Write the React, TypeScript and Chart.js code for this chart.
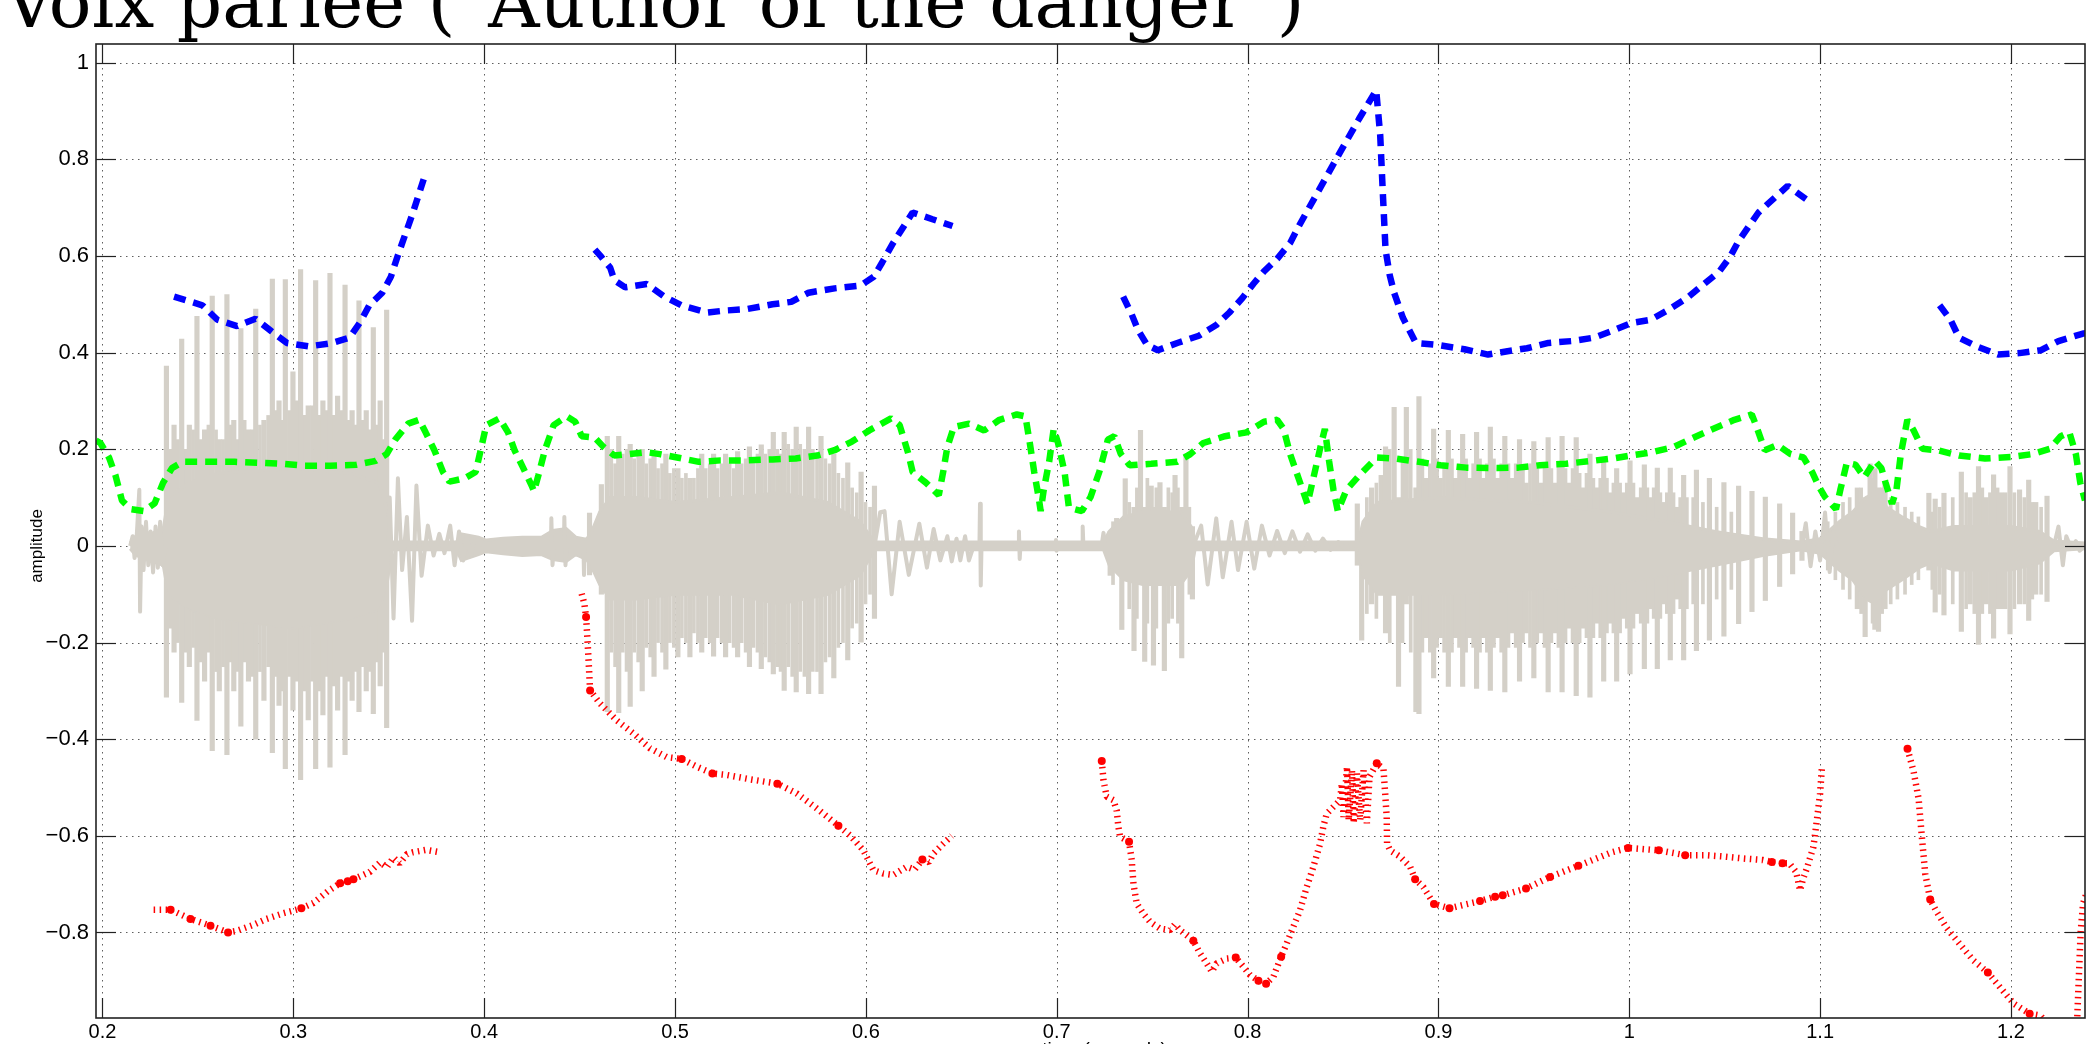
import React, { useEffect, useRef } from 'react';
import { Chart, registerables } from 'chart.js';

Chart.register(...registerables);

// ---------- axes ----------
const X_MIN = 0.1966;
const X_MAX = 1.2388;
const Y_MIN = -0.977;
const Y_MAX = 1.0387;
const xTickValues = [0.2, 0.3, 0.4, 0.5, 0.6, 0.7, 0.8, 0.9, 1, 1.1, 1.2];
const yTickValues = [-0.8, -0.6, -0.4, -0.2, 0, 0.2, 0.4, 0.6, 0.8, 1];
const titleText = 'Voix parlée ("Author of the danger")';
const xAxisTitle = 'time (seconds)';
const yAxisTitle = 'amplitude';

// ---------- speech waveform (gray) ----------
// quiet / ringing parts of the waveform: [time, amplitude]
const waveLine: [number, number][] = [
  [0.2145, 0], [0.2158, 0.02], [0.2168, -0.025], [0.218, 0.025], [0.2193, 0.116], [0.2197, -0.136],
  [0.2205, 0.04], [0.2215, -0.05], [0.2228, 0.05], [0.224, -0.04], [0.2252, 0.03], [0.2265, -0.055],
  [0.2278, 0.04], [0.229, -0.045], [0.2302, 0.05], [0.2315, -0.04], [0.233, 0],
  [0.35, 0], [0.3505, 0.1], [0.3525, -0.15], [0.3548, 0.14], [0.357, -0.05], [0.3595, 0.06],
  [0.3622, -0.155], [0.3645, 0.125], [0.3672, -0.062], [0.3705, 0.042], [0.3735, -0.02], [0.3765, 0.025],
  [0.3792, -0.015], [0.3822, 0.042], [0.3845, -0.04], [0.3868, 0.03], [0.389, -0.03], [0.391, 0.02],
  [0.393, -0.02], [0.395, 0.01], [0.4, 0], [0.435, 0], [0.4352, 0.057], [0.4358, -0.04], [0.4365, 0],
  [0.4418, 0], [0.442, 0.06], [0.4426, -0.04], [0.4432, 0], [0.452, 0], [0.4523, -0.06], [0.4528, 0],
  [0.6045, 0], [0.6075, 0.07], [0.6098, 0.072], [0.6135, -0.1], [0.6177, 0.05], [0.6225, -0.06],
  [0.628, 0.046], [0.632, -0.045], [0.6355, 0.035], [0.639, -0.03], [0.6427, 0.02], [0.645, -0.032],
  [0.6475, 0.015], [0.6495, -0.03], [0.652, 0.02], [0.654, -0.03], [0.6565, 0], [0.6595, 0],
  [0.6598, 0.087], [0.6602, -0.082], [0.6606, 0], [0.6798, 0], [0.6802, 0.03], [0.6806, -0.027],
  [0.681, 0], [0.6993, 0], [0.6996, 0.012], [0.6999, -0.01], [0.7002, 0], [0.7133, 0], [0.7136, 0.04],
  [0.714, 0], [0.7235, 0], [0.7245, 0.027], [0.7255, 0],
  [0.7715, 0], [0.7757, 0.042], [0.7791, -0.08], [0.7836, 0.057], [0.787, -0.065], [0.7916, 0.05],
  [0.795, -0.05], [0.7995, 0.05], [0.8035, -0.047], [0.8075, 0.042], [0.8115, -0.02], [0.8155, 0.031],
  [0.8195, -0.015], [0.8235, 0.03], [0.8275, -0.012], [0.8315, 0.024], [0.8355, -0.01], [0.8395, 0.015],
  [0.8435, -0.008], [0.8475, 0.008], [0.851, -0.005], [0.855, 0.003], [0.858, 0],
  [1.0905, 0], [1.0925, 0.047], [1.095, -0.042], [1.0975, 0.03], [1.1, -0.03], [1.1026, 0.069],
  [1.105, -0.054], [1.107, 0.03], [1.109, 0],
  [1.2225, 0], [1.2249, 0.04], [1.2272, -0.04], [1.229, 0.02], [1.2315, -0.005], [1.234, 0.01],
  [1.236, -0.01], [1.2388, 0],
];

// dense core of the voiced parts: [time, upper, lower]
const waveCore: [number, number, number][] = [
  [0.2145, 0.006, -0.006], [0.2175, 0.02, -0.02], [0.225, 0.025, -0.03], [0.2318, 0.035, -0.04],
  [0.2345, 0.1, -0.1], [0.245, 0.13, -0.13], [0.26, 0.15, -0.15], [0.3, 0.16, -0.17], [0.33, 0.15, -0.15],
  [0.345, 0.13, -0.13], [0.3495, 0.07, -0.07], [0.3515, 0.008, -0.008], [0.3855, 0.008, -0.008],
  [0.388, 0.025, -0.03], [0.397, 0.018, -0.018], [0.401, 0.012, -0.012], [0.41, 0.016, -0.016],
  [0.42, 0.018, -0.02], [0.43, 0.018, -0.018], [0.436, 0.032, -0.028], [0.443, 0.036, -0.032],
  [0.448, 0.018, -0.018], [0.4535, 0.014, -0.028], [0.4558, 0.025, -0.04], [0.4605, 0.07, -0.08],
  [0.466, 0.1, -0.11], [0.48, 0.1, -0.11], [0.5, 0.09, -0.1], [0.53, 0.1, -0.1], [0.555, 0.11, -0.12],
  [0.58, 0.09, -0.1], [0.597, 0.05, -0.06], [0.6045, 0.008, -0.008], [0.7245, 0.008, -0.008],
  [0.7275, 0.03, -0.04], [0.735, 0.06, -0.07], [0.745, 0.07, -0.08], [0.765, 0.07, -0.08], [0.7705, 0.04, -0.05],
  [0.7725, 0.008, -0.008], [0.858, 0.008, -0.008], [0.8605, 0.05, -0.06], [0.868, 0.09, -0.1],
  [0.9, 0.1, -0.1], [0.95, 0.09, -0.09], [0.99, 0.07, -0.08], [1.02, 0.05, -0.06], [1.045, 0.03, -0.04],
  [1.07, 0.015, -0.02], [1.09, 0.008, -0.008], [1.1, 0.015, -0.015], [1.11, 0.05, -0.05], [1.117, 0.07, -0.07],
  [1.124, 0.1, -0.11], [1.129, 0.11, -0.12], [1.135, 0.08, -0.09], [1.143, 0.06, -0.07], [1.152, 0.04, -0.045],
  [1.158, 0.03, -0.035], [1.17, 0.04, -0.05], [1.2, 0.04, -0.05], [1.215, 0.03, -0.035], [1.2225, 0.01, -0.01],
  [1.2388, 0.006, -0.006],
];

// glottal pulses (tall spikes): [time, peak, trough]
const waveSpikes: [number, number, number][] = [
  [0.2335, 0.372, -0.313], [0.2375, 0.25, -0.22], [0.2415, 0.428, -0.324], [0.2455, 0.25, -0.25],
  [0.2495, 0.475, -0.361], [0.2535, 0.24, -0.28], [0.2575, 0.517, -0.424], [0.2612, 0.22, -0.3],
  [0.2652, 0.52, -0.432], [0.2688, 0.26, -0.3], [0.2725, 0.45, -0.373], [0.2765, 0.24, -0.28],
  [0.2803, 0.49, -0.4], [0.2846, 0.26, -0.32], [0.289, 0.552, -0.428], [0.2925, 0.3, -0.33],
  [0.2958, 0.551, -0.461], [0.2998, 0.36, -0.34], [0.3038, 0.572, -0.484], [0.3078, 0.29, -0.36],
  [0.3117, 0.549, -0.461], [0.3155, 0.3, -0.35], [0.3192, 0.564, -0.458], [0.3232, 0.31, -0.34],
  [0.3271, 0.54, -0.432], [0.3308, 0.28, -0.32], [0.3344, 0.507, -0.343], [0.3382, 0.28, -0.3],
  [0.3419, 0.452, -0.347], [0.3455, 0.3, -0.29], [0.3489, 0.488, -0.376],
  [0.4552, 0.068, -0.06], [0.4614, 0.127, -0.1], [0.4645, 0.227, -0.343], [0.4705, 0.227, -0.345],
  [0.4765, 0.21, -0.332], [0.4828, 0.2, -0.3], [0.489, 0.19, -0.27], [0.4952, 0.19, -0.255],
  [0.5015, 0.16, -0.23], [0.5078, 0.14, -0.23], [0.514, 0.19, -0.22], [0.5202, 0.19, -0.228],
  [0.5265, 0.19, -0.23], [0.5328, 0.195, -0.23], [0.539, 0.205, -0.25], [0.5452, 0.209, -0.254],
  [0.5515, 0.235, -0.265], [0.5572, 0.235, -0.299], [0.5635, 0.246, -0.302], [0.57, 0.246, -0.306],
  [0.5765, 0.227, -0.306], [0.5832, 0.19, -0.273], [0.5905, 0.172, -0.236], [0.5975, 0.153, -0.199],
  [0.6045, 0.124, -0.15],
  [0.728, 0.03, -0.061], [0.7314, 0.057, -0.05], [0.7341, 0.05, -0.173], [0.7359, 0.139, -0.05],
  [0.7405, 0.08, -0.217], [0.7439, 0.239, -0.08], [0.7461, 0.08, -0.239], [0.7495, 0.124, -0.08],
  [0.7507, 0.08, -0.247], [0.7541, 0.131, -0.08], [0.7564, 0.08, -0.258], [0.762, 0.146, -0.08],
  [0.7655, 0.08, -0.232], [0.7677, 0.19, -0.05], [0.7711, 0.04, -0.11],
  [0.8575, 0.087, -0.04], [0.8598, 0.03, -0.195], [0.865, 0.12, -0.12], [0.87, 0.146, -0.06],
  [0.8723, 0.205, -0.18], [0.8768, 0.287, -0.1], [0.8791, 0.1, -0.291], [0.8832, 0.287, -0.12],
  [0.8882, 0.12, -0.343], [0.8898, 0.309, -0.347], [0.8935, 0.14, -0.19], [0.8975, 0.242, -0.273],
  [0.901, 0.14, -0.19], [0.9052, 0.239, -0.291], [0.909, 0.14, -0.19], [0.9127, 0.231, -0.291],
  [0.9163, 0.14, -0.19], [0.92, 0.235, -0.295], [0.9236, 0.14, -0.19], [0.9272, 0.246, -0.299],
  [0.931, 0.14, -0.19], [0.9348, 0.227, -0.302], [0.9386, 0.14, -0.18], [0.9425, 0.22, -0.28],
  [0.946, 0.13, -0.18], [0.95, 0.216, -0.273], [0.9537, 0.13, -0.18], [0.9575, 0.224, -0.302],
  [0.961, 0.13, -0.18], [0.9648, 0.227, -0.302], [0.9685, 0.13, -0.17], [0.9722, 0.224, -0.31],
  [0.9758, 0.12, -0.17], [0.9794, 0.19, -0.313], [0.983, 0.12, -0.16], [0.9866, 0.176, -0.28],
  [0.99, 0.11, -0.16], [0.9934, 0.16, -0.28], [0.997, 0.11, -0.15], [1.0004, 0.176, -0.265],
  [1.004, 0.1, -0.14], [1.0079, 0.168, -0.254], [1.011, 0.1, -0.13], [1.0147, 0.161, -0.254],
  [1.018, 0.09, -0.12], [1.0215, 0.161, -0.236], [1.025, 0.08, -0.11], [1.0285, 0.146, -0.236],
  [1.0352, 0.157, -0.217], [1.042, 0.14, -0.195], [1.0496, 0.131, -0.187], [1.0573, 0.124, -0.161],
  [1.0643, 0.113, -0.136], [1.0713, 0.101, -0.113], [1.0788, 0.087, -0.084], [1.0856, 0.068, -0.058],
  [1.0905, 0.03, -0.03],
  [1.1195, 0.12, -0.13], [1.1236, 0.1, -0.188], [1.1262, 0.17, -0.1], [1.1287, 0.16, -0.173],
  [1.1306, 0.12, -0.177], [1.134, 0.13, -0.13],
  [1.157, 0.109, -0.05], [1.1603, 0.097, -0.137], [1.1649, 0.109, -0.143], [1.174, 0.153, -0.177],
  [1.1786, 0.1, -0.12], [1.183, 0.164, -0.204], [1.187, 0.1, -0.12], [1.1909, 0.147, -0.191],
  [1.195, 0.11, -0.13], [1.1995, 0.164, -0.182], [1.2045, 0.116, -0.12], [1.2093, 0.136, -0.154],
  [1.213, 0.09, -0.1], [1.2189, 0.103, -0.115],
];

// smaller oscillations inside the voiced parts: [time, peak, trough]
const waveMinor: [number, number, number][] = [
  [0.2355, 0.2, -0.17], [0.2395, 0.22, -0.2], [0.2435, 0.2, -0.22], [0.2475, 0.24, -0.21],
  [0.2515, 0.22, -0.24], [0.2555, 0.25, -0.22], [0.2595, 0.24, -0.26], [0.2632, 0.22, -0.25],
  [0.267, 0.25, -0.24], [0.2706, 0.22, -0.26], [0.2745, 0.26, -0.24], [0.2785, 0.24, -0.27],
  [0.2825, 0.25, -0.26], [0.2868, 0.27, -0.25], [0.2908, 0.28, -0.27], [0.2942, 0.26, -0.3],
  [0.2978, 0.28, -0.27], [0.3018, 0.3, -0.28], [0.3058, 0.27, -0.3], [0.3098, 0.29, -0.28],
  [0.3136, 0.27, -0.3], [0.3174, 0.28, -0.27], [0.3212, 0.27, -0.29], [0.3252, 0.28, -0.27],
  [0.329, 0.26, -0.28], [0.3326, 0.25, -0.26], [0.3363, 0.26, -0.25], [0.34, 0.24, -0.26],
  [0.3437, 0.25, -0.24], [0.3472, 0.22, -0.22],
  [0.4666, 0.2, -0.22], [0.4686, 0.17, -0.25], [0.4726, 0.19, -0.22], [0.4746, 0.2, -0.26],
  [0.4786, 0.18, -0.22], [0.4807, 0.19, -0.24], [0.4849, 0.17, -0.21], [0.487, 0.18, -0.23],
  [0.4911, 0.16, -0.2], [0.4932, 0.17, -0.22], [0.4973, 0.15, -0.2], [0.4994, 0.16, -0.21],
  [0.5036, 0.14, -0.19], [0.5057, 0.15, -0.2], [0.5099, 0.14, -0.18], [0.512, 0.16, -0.2],
  [0.5161, 0.16, -0.19], [0.5182, 0.17, -0.2], [0.5223, 0.16, -0.19], [0.5244, 0.17, -0.2],
  [0.5286, 0.17, -0.2], [0.5307, 0.16, -0.21], [0.5349, 0.17, -0.2], [0.537, 0.18, -0.22],
  [0.5411, 0.18, -0.21], [0.5432, 0.19, -0.22], [0.5473, 0.19, -0.23], [0.5494, 0.2, -0.24],
  [0.5536, 0.2, -0.25], [0.5553, 0.19, -0.26], [0.5593, 0.21, -0.25], [0.5614, 0.2, -0.27],
  [0.5656, 0.21, -0.26], [0.5678, 0.2, -0.27], [0.5722, 0.2, -0.26], [0.5744, 0.19, -0.26],
  [0.5788, 0.18, -0.24], [0.581, 0.17, -0.23], [0.5856, 0.15, -0.21], [0.588, 0.14, -0.2],
  [0.5928, 0.12, -0.17], [0.5952, 0.11, -0.16], [0.5998, 0.09, -0.12], [0.6022, 0.08, -0.1],
  [0.7295, 0.05, -0.08], [0.738, 0.09, -0.13], [0.742, 0.12, -0.15], [0.7475, 0.14, -0.16],
  [0.7522, 0.12, -0.17], [0.7585, 0.12, -0.16], [0.7605, 0.11, -0.15], [0.7635, 0.12, -0.16],
  [0.7695, 0.08, -0.1],
  [0.8625, 0.1, -0.14], [0.8675, 0.13, -0.15], [0.8745, 0.2, -0.2], [0.8812, 0.18, -0.2],
  [0.8855, 0.2, -0.22], [0.8916, 0.18, -0.22], [0.8955, 0.17, -0.22], [0.8993, 0.18, -0.21],
  [0.903, 0.17, -0.22], [0.9071, 0.18, -0.22], [0.9108, 0.17, -0.21], [0.9145, 0.18, -0.22],
  [0.9182, 0.17, -0.21], [0.9218, 0.18, -0.22], [0.9254, 0.17, -0.22], [0.9291, 0.18, -0.21],
  [0.9329, 0.17, -0.22], [0.9367, 0.17, -0.21], [0.9405, 0.17, -0.21], [0.9443, 0.16, -0.2],
  [0.948, 0.17, -0.21], [0.9518, 0.16, -0.2], [0.9556, 0.17, -0.21], [0.9592, 0.16, -0.2],
  [0.9629, 0.17, -0.21], [0.9666, 0.16, -0.2], [0.9703, 0.16, -0.2], [0.974, 0.15, -0.2],
  [0.9776, 0.15, -0.19], [0.9812, 0.14, -0.19], [0.9848, 0.14, -0.19], [0.9883, 0.14, -0.18],
  [0.9917, 0.13, -0.18], [0.9952, 0.13, -0.18], [0.9987, 0.13, -0.17], [1.0022, 0.13, -0.17],
  [1.006, 0.12, -0.16], [1.0095, 0.12, -0.16], [1.0128, 0.12, -0.15], [1.0163, 0.11, -0.15],
  [1.0197, 0.11, -0.14], [1.0232, 0.11, -0.14], [1.0267, 0.1, -0.13], [1.0302, 0.1, -0.13],
  [1.0335, 0.1, -0.12], [1.0386, 0.09, -0.12], [1.0458, 0.08, -0.11], [1.0535, 0.07, -0.09],
  [1.104, 0.05, -0.05], [1.108, 0.07, -0.07], [1.112, 0.09, -0.09], [1.1155, 0.1, -0.11],
  [1.1215, 0.12, -0.14], [1.1275, 0.14, -0.16], [1.1325, 0.12, -0.14], [1.137, 0.1, -0.12],
  [1.1405, 0.09, -0.11], [1.1445, 0.08, -0.1], [1.148, 0.07, -0.08], [1.1515, 0.06, -0.07],
  [1.1588, 0.07, -0.09], [1.1626, 0.08, -0.1], [1.1695, 0.1, -0.12], [1.1765, 0.11, -0.13],
  [1.1808, 0.11, -0.14], [1.185, 0.12, -0.14], [1.189, 0.11, -0.14], [1.193, 0.12, -0.13],
  [1.1972, 0.11, -0.13], [1.2018, 0.11, -0.13], [1.207, 0.1, -0.12], [1.2112, 0.09, -0.11],
  [1.2158, 0.08, -0.1],
];

// ---------- green dashed curve ----------
const greenCurve: [number, number][] = [
  [0.1966, 0.218], [0.1989, 0.213], [0.2034, 0.183], [0.2068, 0.146], [0.2102, 0.094], [0.2148, 0.076],
  [0.2216, 0.072], [0.2273, 0.088], [0.2318, 0.131], [0.2364, 0.161], [0.242, 0.174], [0.2557, 0.174],
  [0.2693, 0.174], [0.283, 0.172], [0.2943, 0.17], [0.3057, 0.166], [0.3193, 0.166], [0.333, 0.168],
  [0.3432, 0.176], [0.3489, 0.19], [0.3534, 0.22], [0.3602, 0.253], [0.3659, 0.261], [0.3693, 0.235],
  [0.3739, 0.198], [0.3784, 0.153], [0.3818, 0.133], [0.3898, 0.14], [0.3955, 0.153], [0.3977, 0.19],
  [0.4011, 0.25], [0.408, 0.264], [0.4125, 0.235], [0.4159, 0.198], [0.4205, 0.161], [0.425, 0.124],
  [0.4261, 0.113], [0.4284, 0.146], [0.4318, 0.198], [0.4364, 0.25], [0.4432, 0.268], [0.4477, 0.257],
  [0.4511, 0.227], [0.458, 0.224], [0.4625, 0.205], [0.4682, 0.187], [0.4761, 0.19], [0.4852, 0.194],
  [0.492, 0.19], [0.5011, 0.183], [0.5125, 0.174], [0.5239, 0.177], [0.5375, 0.177], [0.5511, 0.179],
  [0.5632, 0.181], [0.5745, 0.187], [0.5836, 0.198], [0.5927, 0.216], [0.6018, 0.239], [0.6132, 0.264],
  [0.6177, 0.25], [0.6223, 0.19], [0.6245, 0.153], [0.6314, 0.131], [0.6382, 0.105], [0.6405, 0.153],
  [0.6427, 0.205], [0.6461, 0.246], [0.6541, 0.253], [0.662, 0.239], [0.67, 0.261], [0.6791, 0.272],
  [0.6836, 0.268], [0.6859, 0.213], [0.6882, 0.153], [0.6905, 0.101], [0.6916, 0.072], [0.6932, 0.116],
  [0.6961, 0.176], [0.6984, 0.242], [0.7007, 0.213], [0.7041, 0.153], [0.7064, 0.079], [0.7132, 0.072],
  [0.7177, 0.101], [0.7223, 0.153], [0.7268, 0.22], [0.7302, 0.227], [0.7336, 0.19], [0.7382, 0.167],
  [0.7495, 0.17], [0.7632, 0.174], [0.77, 0.19], [0.7768, 0.213], [0.7882, 0.227], [0.7995, 0.235],
  [0.8086, 0.257], [0.8155, 0.261], [0.8189, 0.242], [0.8223, 0.19], [0.8268, 0.139], [0.8314, 0.087],
  [0.8348, 0.146], [0.8382, 0.205], [0.8405, 0.242], [0.8427, 0.176], [0.845, 0.116], [0.8473, 0.072],
  [0.8518, 0.116], [0.8586, 0.146], [0.8677, 0.183], [0.8768, 0.181], [0.8898, 0.174], [0.9011, 0.167],
  [0.9147, 0.162], [0.9306, 0.161], [0.9419, 0.162], [0.9532, 0.167], [0.9668, 0.17], [0.9804, 0.176],
  [0.9917, 0.181], [1.0008, 0.187], [1.0121, 0.194], [1.0234, 0.205], [1.0347, 0.226], [1.0438, 0.242],
  [1.0551, 0.261], [1.0642, 0.272], [1.0664, 0.25], [1.071, 0.198], [1.0777, 0.209], [1.0845, 0.19],
  [1.0913, 0.183], [1.0958, 0.153], [1.0992, 0.124], [1.1026, 0.101], [1.1083, 0.076], [1.1106, 0.116],
  [1.114, 0.172], [1.1185, 0.168], [1.1231, 0.142], [1.1287, 0.176], [1.1321, 0.161], [1.1343, 0.131],
  [1.1377, 0.087], [1.14, 0.116], [1.1423, 0.19], [1.1457, 0.261], [1.149, 0.239], [1.1536, 0.201],
  [1.1615, 0.198], [1.1728, 0.187], [1.1864, 0.181], [1.2, 0.184], [1.2113, 0.19], [1.2204, 0.201],
  [1.2261, 0.227], [1.2306, 0.235], [1.234, 0.19], [1.2363, 0.131], [1.2388, 0.094],
];

// ---------- blue dashed curve (null = gap) ----------
const blueCurve: [number, number | null][] = [
  [0.2375, 0.516], [0.2523, 0.498], [0.2602, 0.468], [0.2705, 0.455], [0.2802, 0.47], [0.2886, 0.444],
  [0.2966, 0.42], [0.308, 0.413], [0.3193, 0.419], [0.3295, 0.431], [0.3352, 0.464], [0.3398, 0.498],
  [0.3466, 0.524], [0.3511, 0.557], [0.3545, 0.598], [0.3568, 0.624], [0.3627, 0.69], [0.3683, 0.759],
  [0.41, null],
  [0.458, 0.613], [0.4614, 0.598], [0.466, 0.576], [0.4682, 0.55], [0.4739, 0.535], [0.4852, 0.542],
  [0.4943, 0.516], [0.5034, 0.498], [0.517, 0.483], [0.5261, 0.487], [0.5375, 0.49], [0.5511, 0.5],
  [0.5609, 0.505], [0.57, 0.524], [0.5836, 0.533], [0.5973, 0.539], [0.6041, 0.557], [0.6086, 0.587],
  [0.6143, 0.627], [0.6245, 0.69], [0.6349, 0.676], [0.6454, 0.662],
  [0.69, null],
  [0.7348, 0.516], [0.7393, 0.479], [0.7427, 0.446], [0.7473, 0.416], [0.753, 0.405], [0.7632, 0.42],
  [0.7745, 0.435], [0.7836, 0.457], [0.7905, 0.483], [0.7973, 0.513], [0.803, 0.542], [0.8086, 0.568],
  [0.8155, 0.594], [0.8223, 0.627], [0.8269, 0.662], [0.8444, 0.786], [0.8583, 0.883], [0.8674, 0.943],
  [0.8695, 0.85], [0.871, 0.72], [0.8723, 0.613], [0.8745, 0.56], [0.8768, 0.524], [0.8814, 0.472],
  [0.8882, 0.42], [0.8995, 0.416], [0.9136, 0.407], [0.926, 0.396], [0.9362, 0.403], [0.9464, 0.409],
  [0.9577, 0.42], [0.9702, 0.424], [0.9815, 0.431], [0.9917, 0.446], [1.0008, 0.461], [1.0112, 0.468],
  [1.0211, 0.49], [1.0302, 0.513], [1.0392, 0.542], [1.0472, 0.568], [1.0528, 0.598], [1.0573, 0.631],
  [1.0677, 0.69], [1.083, 0.745], [1.0928, 0.717],
  [1.13, null],
  [1.1626, 0.498], [1.1683, 0.468], [1.1728, 0.431], [1.1819, 0.413], [1.1932, 0.396], [1.2045, 0.399],
  [1.2158, 0.405], [1.2249, 0.424], [1.2374, 0.439], [1.2403, 0.441],
];

// ---------- red dotted curve (null = gap) ----------
const redCurve: [number, number | null][] = [
  [0.2268, -0.753], [0.2357, -0.753], [0.2461, -0.772], [0.2566, -0.786], [0.2658, -0.8], [0.27, -0.797],
  [0.2786, -0.785], [0.2859, -0.772], [0.295, -0.76], [0.3042, -0.75], [0.3105, -0.739], [0.318, -0.715],
  [0.3245, -0.698], [0.3285, -0.694], [0.3315, -0.69], [0.34, -0.675], [0.3455, -0.655], [0.349, -0.665],
  [0.3525, -0.645], [0.3557, -0.657], [0.3595, -0.638], [0.3627, -0.634], [0.3696, -0.629], [0.3766, -0.634],
  [0.41, null],
  [0.4511, -0.099], [0.4525, -0.12], [0.4534, -0.147], [0.4542, -0.2], [0.455, -0.26], [0.4555, -0.299],
  [0.4607, -0.326], [0.4694, -0.361], [0.4782, -0.388], [0.4869, -0.419], [0.4956, -0.437], [0.5035, -0.441],
  [0.5114, -0.457], [0.5196, -0.471], [0.5271, -0.474], [0.5393, -0.483], [0.5536, -0.492], [0.5637, -0.512],
  [0.5742, -0.543], [0.5856, -0.579], [0.5917, -0.599], [0.5987, -0.63], [0.6039, -0.671], [0.6091, -0.678],
  [0.6144, -0.681], [0.6214, -0.664], [0.6255, -0.67], [0.6296, -0.649], [0.633, -0.655], [0.6353, -0.637],
  [0.6406, -0.616], [0.645, -0.6],
  [0.69, null],
  [0.7236, -0.445], [0.7245, -0.485], [0.7262, -0.519], [0.7297, -0.526], [0.7314, -0.547], [0.7323, -0.581],
  [0.7332, -0.602], [0.7379, -0.612], [0.7393, -0.65], [0.7402, -0.699], [0.7419, -0.74], [0.7454, -0.761],
  [0.7489, -0.778], [0.7541, -0.792], [0.7594, -0.795], [0.762, -0.783], [0.7646, -0.795], [0.7716, -0.817],
  [0.7751, -0.843], [0.7786, -0.864], [0.7812, -0.881], [0.7838, -0.864], [0.7891, -0.854], [0.7938, -0.852],
  [0.7978, -0.871], [0.8013, -0.888], [0.8057, -0.9], [0.8097, -0.906], [0.8135, -0.892], [0.8176, -0.85],
  [0.8205, -0.823], [0.824, -0.788], [0.8275, -0.754], [0.831, -0.706], [0.8345, -0.664], [0.838, -0.616],
  [0.8397, -0.581], [0.8415, -0.554], [0.845, -0.54], [0.8485, -0.526], [0.8494, -0.492], [0.8503, -0.561],
  [0.8521, -0.457], [0.853, -0.568], [0.8547, -0.464], [0.8556, -0.574], [0.8573, -0.471], [0.859, -0.568],
  [0.8608, -0.464], [0.8625, -0.574], [0.8639, -0.478], [0.8677, -0.45], [0.8712, -0.461], [0.8721, -0.512],
  [0.8729, -0.561], [0.8731, -0.616], [0.8747, -0.63], [0.8799, -0.643], [0.8852, -0.664], [0.8878, -0.69],
  [0.8921, -0.706], [0.8977, -0.741], [0.9058, -0.75], [0.9131, -0.743], [0.9218, -0.735], [0.9297, -0.726],
  [0.9337, -0.723], [0.9459, -0.709], [0.9585, -0.685], [0.9733, -0.662], [0.9908, -0.634], [0.9994, -0.625],
  [1.0155, -0.63], [1.0293, -0.64], [1.04, -0.64], [1.05, -0.643], [1.06, -0.647], [1.07, -0.65],
  [1.0747, -0.654], [1.0803, -0.657], [1.0839, -0.657], [1.0875, -0.675], [1.0895, -0.713], [1.091, -0.69],
  [1.093, -0.668], [1.0965, -0.623], [1.0983, -0.568], [1.1, -0.512], [1.1009, -0.461],
  [1.12, null],
  [1.1458, -0.42], [1.149, -0.467], [1.1516, -0.523], [1.1533, -0.601], [1.1551, -0.679], [1.1577, -0.732],
  [1.1612, -0.758], [1.1664, -0.791], [1.1734, -0.825], [1.1804, -0.858], [1.1879, -0.883], [1.1944, -0.914],
  [1.2014, -0.947], [1.2098, -0.968], [1.2154, -0.972], [1.222, -1.0], [1.23, -1.05], [1.2345, -1.0],
  [1.2355, -0.9], [1.2365, -0.8], [1.2378, -0.74], [1.2395, -0.72],
];

// red markers
const redMarkers: [number, number][] = [
  [0.2357, -0.753], [0.2461, -0.772], [0.2566, -0.786], [0.2658, -0.8], [0.3042, -0.75], [0.3245, -0.698],
  [0.3285, -0.694], [0.3315, -0.69],
  [0.4534, -0.147], [0.4555, -0.299], [0.5035, -0.441], [0.5196, -0.471], [0.5536, -0.492], [0.5856, -0.579],
  [0.6296, -0.649],
  [0.7236, -0.445], [0.7379, -0.612], [0.7716, -0.817], [0.7938, -0.852], [0.8057, -0.9], [0.8097, -0.906],
  [0.8176, -0.85], [0.8677, -0.45], [0.8878, -0.69], [0.8977, -0.741], [0.9058, -0.75], [0.9218, -0.735],
  [0.9297, -0.726], [0.9337, -0.723], [0.9459, -0.709], [0.9585, -0.685], [0.9733, -0.662], [0.9994, -0.625],
  [1.0155, -0.63], [1.0293, -0.64], [1.0747, -0.654], [1.0803, -0.657],
  [1.1458, -0.42], [1.1577, -0.732], [1.1879, -0.883], [1.2098, -0.968],
];

const GRAY = 'rgb(212,208,200)';

const fmt = (v: number) => (v < 0 ? '\u2212' + String(Math.abs(v)) : String(v));

const matlabPlugin = {
  id: 'matlabAxes',
  beforeDatasetsDraw(chart: any) {
    const { ctx, chartArea: a, scales } = chart;
    const x = scales.x, y = scales.y;
    ctx.save();
    ctx.strokeStyle = 'rgba(40,40,40,0.75)';
    ctx.lineWidth = 1;
    ctx.setLineDash([1.5, 4.5]);
    xTickValues.forEach((v) => {
      const px = Math.round(x.getPixelForValue(v)) + 0.5;
      ctx.beginPath(); ctx.moveTo(px, a.top); ctx.lineTo(px, a.bottom); ctx.stroke();
    });
    yTickValues.forEach((v) => {
      const py = Math.round(y.getPixelForValue(v)) + 0.5;
      ctx.beginPath(); ctx.moveTo(a.left, py); ctx.lineTo(a.right, py); ctx.stroke();
    });
    ctx.restore();
  },
  afterDatasetsDraw(chart: any) {
    const { ctx, chartArea: a, scales } = chart;
    const x = scales.x, y = scales.y;
    const TL = 20;
    ctx.save();
    ctx.setLineDash([]);
    ctx.strokeStyle = '#222';
    ctx.lineWidth = 1.2;
    xTickValues.forEach((v) => {
      const px = Math.round(x.getPixelForValue(v)) + 0.5;
      ctx.beginPath(); ctx.moveTo(px, a.bottom); ctx.lineTo(px, a.bottom - TL); ctx.stroke();
      ctx.beginPath(); ctx.moveTo(px, a.top); ctx.lineTo(px, a.top + TL); ctx.stroke();
    });
    yTickValues.forEach((v) => {
      const py = Math.round(y.getPixelForValue(v)) + 0.5;
      ctx.beginPath(); ctx.moveTo(a.left, py); ctx.lineTo(a.left + TL, py); ctx.stroke();
      ctx.beginPath(); ctx.moveTo(a.right, py); ctx.lineTo(a.right - TL, py); ctx.stroke();
    });
    ctx.lineWidth = 1.6;
    ctx.strokeRect(a.left, a.top, a.right - a.left, a.bottom - a.top);
    ctx.restore();
  },
  afterDraw(chart: any) {
    const { ctx, chartArea: a } = chart;
    ctx.save();
    ctx.fillStyle = '#000';
    ctx.font = '71px "DejaVu Serif"';
    ctx.textAlign = 'left';
    ctx.textBaseline = 'alphabetic';
    ctx.fillText(titleText, 4, 27);
    ctx.font = '19px "Liberation Sans"';
    ctx.textAlign = 'center';
    ctx.textBaseline = 'top';
    ctx.fillText(xAxisTitle, (a.left + a.right) / 2 + 14, 1040);
    ctx.translate(37, 546);
    ctx.rotate(-Math.PI / 2);
    ctx.textBaseline = 'middle';
    ctx.font = '17px "Liberation Sans"';
    ctx.fillText(yAxisTitle, 0, 0);
    ctx.restore();
  },
};

export default function App() {
  const ref = useRef<HTMLCanvasElement | null>(null);
  useEffect(() => {
    if (!ref.current) return;
    const pts = (arr: [number, number | null][]) => arr.map(([x, y]) => ({ x, y }));
    const bars = (arr: [number, number, number][]) => arr.map(([x, hi, lo]) => ({ x, y: [lo, hi] }));
    const chart = new Chart(ref.current, {
      type: 'line',
      data: {
        datasets: [
          {
            type: 'line', label: 'markers', data: pts(redMarkers) as any, showLine: false,
            pointRadius: 4, pointBackgroundColor: '#ff0000', pointBorderWidth: 0, order: 0, clip: 0,
          },
          {
            type: 'line', label: 'red', data: pts(redCurve) as any, borderColor: '#ff0000', borderWidth: 6.5,
            borderDash: [1.5, 4.5], borderCapStyle: 'butt', borderJoinStyle: 'bevel',
            pointRadius: 0, tension: 0, fill: false, order: 1, clip: 0,
          },
          {
            type: 'line', label: 'blue', data: pts(blueCurve) as any, borderColor: '#0000ff', borderWidth: 6.5,
            borderDash: [12, 8], borderCapStyle: 'butt', borderJoinStyle: 'bevel',
            pointRadius: 0, tension: 0, fill: false, order: 2, clip: 0,
          },
          {
            type: 'line', label: 'green', data: pts(greenCurve) as any, borderColor: '#00ff00', borderWidth: 6.5,
            borderDash: [12, 8], borderCapStyle: 'butt', borderJoinStyle: 'bevel',
            pointRadius: 0, tension: 0, fill: false, order: 3, clip: 0,
          },
          {
            type: 'line', label: 'wave', data: pts(waveLine) as any, borderColor: GRAY, borderWidth: 4,
            pointRadius: 0, tension: 0, fill: false, order: 4, clip: 0, borderJoinStyle: 'round',
          },
          {
            type: 'line', label: 'coreHi', data: waveCore.map(([x, hi]) => ({ x, y: hi })) as any,
            borderColor: GRAY, backgroundColor: GRAY, borderWidth: 3, pointRadius: 0, tension: 0,
            fill: '+1', order: 5, clip: 0,
          },
          {
            type: 'line', label: 'coreLo', data: waveCore.map(([x, , lo]) => ({ x, y: lo })) as any,
            borderColor: GRAY, borderWidth: 3, pointRadius: 0, tension: 0, fill: false, order: 5, clip: 0,
          },
          {
            type: 'bar', label: 'spikes', data: bars(waveSpikes) as any,
            backgroundColor: GRAY, borderWidth: 0, barThickness: 4.5, order: 6, clip: 0, grouped: false,
          } as any,
          {
            type: 'bar', label: 'minor', data: bars(waveMinor) as any,
            backgroundColor: GRAY, borderWidth: 0, barThickness: 3, order: 7, clip: 0, grouped: false,
          } as any,
        ],
      },
      options: {
        animation: false,
        responsive: false,
        devicePixelRatio: 1,
        events: [],
        layout: { padding: { top: 44, right: 4, bottom: 0, left: 0 } },
        plugins: { legend: { display: false }, tooltip: { enabled: false }, title: { display: false } },
        scales: {
          x: {
            type: 'linear', min: X_MIN, max: X_MAX, offset: false,
            grid: { display: false, drawTicks: false }, border: { display: false },
            afterBuildTicks: (s: any) => { s.ticks = xTickValues.map((v) => ({ value: v })); },
            afterFit: (s: any) => { s.height = 26; },
            ticks: {
              padding: 2, color: '#000', maxRotation: 0, autoSkip: false, includeBounds: false,
              font: { family: 'Liberation Sans', size: 20 }, callback: (v: any) => fmt(Number(v)),
            },
          },
          y: {
            type: 'linear', min: Y_MIN, max: Y_MAX,
            grid: { display: false, drawTicks: false }, border: { display: false },
            afterBuildTicks: (s: any) => { s.ticks = yTickValues.map((v) => ({ value: v })); },
            afterFit: (s: any) => { s.width = 96; },
            ticks: {
              padding: 7, color: '#000', autoSkip: false, includeBounds: false,
              font: { family: 'Liberation Sans', size: 22 }, callback: (v: any) => fmt(Number(v)),
            },
          },
        },
      } as any,
      plugins: [matlabPlugin as any],
    });
    return () => chart.destroy();
  }, []);
  return (
    <div style={{ position: 'fixed', left: 0, top: 0, width: 2089, height: 1044, background: '#fff' }}>
      <canvas ref={ref} width={2089} height={1044} style={{ display: 'block', width: 2089, height: 1044 }} />
    </div>
  );
}
